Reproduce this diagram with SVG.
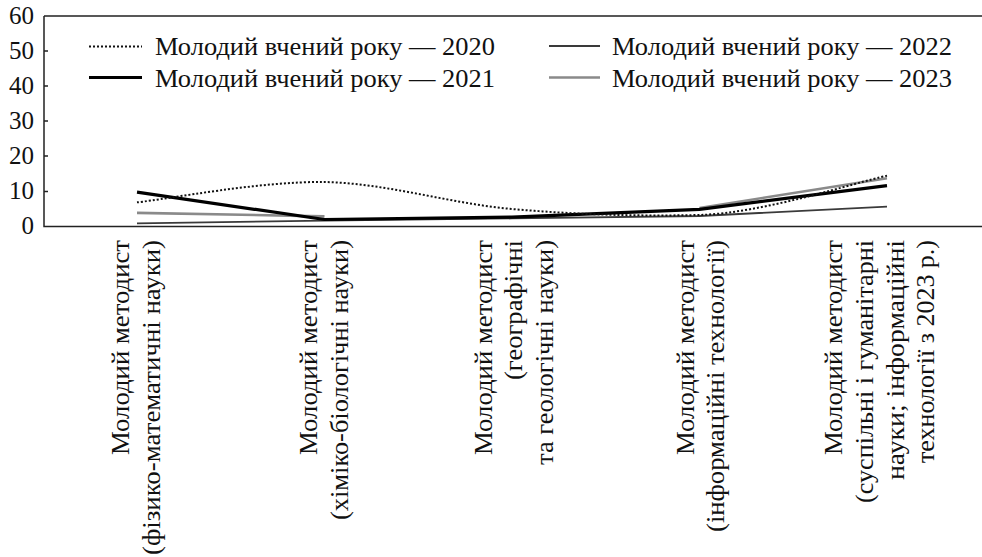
<svg xmlns="http://www.w3.org/2000/svg" width="982" height="557" viewBox="0 0 982 557">
<style>
.tx{font-family:'Liberation Serif','Times New Roman',Tinos,'DejaVu Serif','Noto Serif',serif;fill:#111}
.tick{font-size:25px;text-anchor:end}
.leg{font-size:25px}
.cat{font-size:25px;text-anchor:end}
.axis{stroke:#222;stroke-width:1.5;fill:none}
.s2020{stroke:#111;stroke-width:2;stroke-dasharray:2 2;fill:none}
.s2021{stroke:#000;stroke-width:3.2;fill:none;stroke-linejoin:round}
.s2022{stroke:#3a3a3a;stroke-width:1.8;fill:none}
.s2023{stroke:#8a8a8a;stroke-width:2.6;fill:none}
</style>
<rect width="982" height="557" fill="#fff"/>
<g id="axes">
<path class="axis" d="M44,16 H982 M44,16 V226.5 H982"/>
<path class="axis" d="M44,51 h4 M44,86 h4 M44,121 h4 M44,156 h4 M44,191.5 h4"/>
<text class="tx tick" x="34" y="24">60</text>
<text class="tx tick" x="34" y="59">50</text>
<text class="tx tick" x="34" y="94">40</text>
<text class="tx tick" x="34" y="129">30</text>
<text class="tx tick" x="34" y="164">20</text>
<text class="tx tick" x="34" y="199">10</text>
<text class="tx tick" x="34" y="234">0</text>
</g>
<g id="legend">
<line class="s2020" x1="89" y1="46.5" x2="142" y2="46.5"/>
<text class="tx leg" x="155" y="55" textLength="340" lengthAdjust="spacingAndGlyphs">Молодий вчений року — 2020</text>
<line class="s2021" x1="89" y1="77.5" x2="142" y2="77.5"/>
<text class="tx leg" x="155" y="87" textLength="340" lengthAdjust="spacingAndGlyphs">Молодий вчений року — 2021</text>
<line class="s2022" x1="549" y1="46" x2="600" y2="46"/>
<text class="tx leg" x="612" y="55" textLength="340" lengthAdjust="spacingAndGlyphs">Молодий вчений року — 2022</text>
<line class="s2023" x1="549" y1="77.5" x2="600" y2="77.5"/>
<text class="tx leg" x="612" y="87" textLength="340" lengthAdjust="spacingAndGlyphs">Молодий вчений року — 2023</text>
</g>
<g id="connectors">
<path id="series-2022" class="s2022" d="M137,223.35 L324.5,220.55 L512,218.45 L699.5,216 L887,206.55"/>
<path id="series-2023a" class="s2023" d="M137,212.85 L324.5,216.35"/>
<path id="series-2023b" class="s2023" d="M699.5,207.95 L887,178.2"/>
<path id="series-2021" class="s2021" d="M137,192.2 L324.5,219.5 L512,217.05 L699.5,209.35 L887,185.55"/>
<path id="series-2020" class="s2020" d="M137,202.35 C168.25,198.97 262,180.94 324.5,182.05 C387,183.16 449.5,203.52 512,209 C574.5,214.48 637,216.5 699.5,214.95 C762,213.4 855.75,182.28 887,175.75"/>
</g>
<g id="cat0">
<text class="tx cat" transform="translate(129,240) rotate(-90)"><tspan x="0" y="0" textLength="215" lengthAdjust="spacingAndGlyphs">Молодий методист</tspan><tspan x="0" y="31" textLength="315" lengthAdjust="spacingAndGlyphs">(фізико-математичні науки)</tspan></text>
</g>
<g id="cat1">
<text class="tx cat" transform="translate(317,240) rotate(-90)"><tspan x="0" y="0" textLength="215" lengthAdjust="spacingAndGlyphs">Молодий методист</tspan><tspan x="0" y="31" textLength="280" lengthAdjust="spacingAndGlyphs">(хіміко-біологічні науки)</tspan></text>
</g>
<g id="cat2">
<text class="tx cat" transform="translate(492,240) rotate(-90)"><tspan x="0" y="0" textLength="215" lengthAdjust="spacingAndGlyphs">Молодий методист</tspan><tspan x="0" y="30" textLength="140" lengthAdjust="spacingAndGlyphs">(географічні</tspan><tspan x="0" y="61" textLength="225" lengthAdjust="spacingAndGlyphs">та геологічні науки)</tspan></text>
</g>
<g id="cat3">
<text class="tx cat" transform="translate(694,240) rotate(-90)"><tspan x="0" y="0" textLength="215" lengthAdjust="spacingAndGlyphs">Молодий методист</tspan><tspan x="0" y="30" textLength="292" lengthAdjust="spacingAndGlyphs">(інформаційні технології)</tspan></text>
</g>
<g id="cat4">
<text class="tx cat" transform="translate(842,240) rotate(-90)"><tspan x="0" y="0" textLength="215" lengthAdjust="spacingAndGlyphs">Молодий методист</tspan><tspan x="0" y="31" textLength="263" lengthAdjust="spacingAndGlyphs">(суспільні і гуманітарні</tspan><tspan x="0" y="62" textLength="240" lengthAdjust="spacingAndGlyphs">науки; інформаційні</tspan><tspan x="0" y="92" textLength="223" lengthAdjust="spacingAndGlyphs">технології з 2023 р.)</tspan></text>
</g>
</svg>
